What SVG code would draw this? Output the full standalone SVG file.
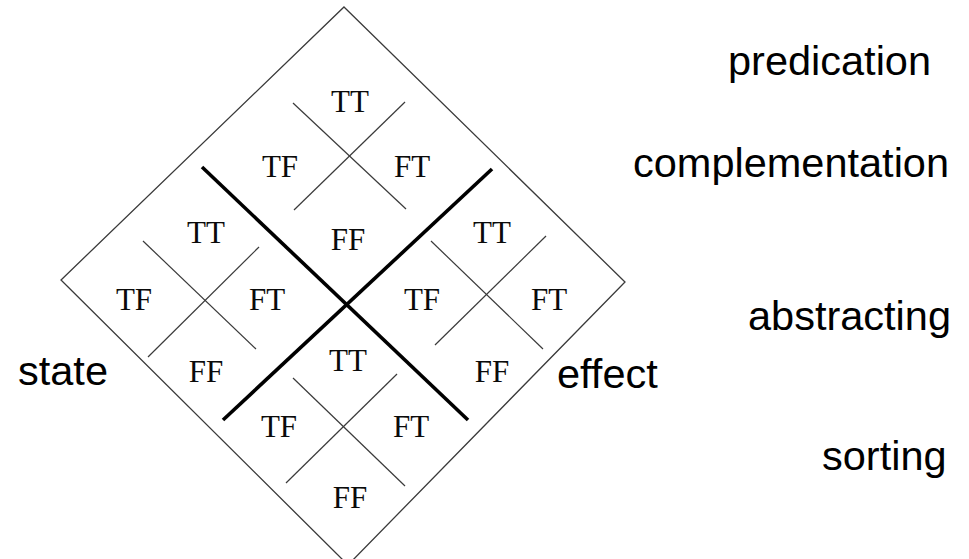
<svg xmlns="http://www.w3.org/2000/svg" width="969" height="559" viewBox="0 0 969 559">
  <style>
    .frame { fill: none; stroke: #3a3a3a; stroke-width: 1.3; }
    .axis { fill: none; stroke: #000; stroke-width: 3.6; stroke-linecap: butt; }
    .thin { fill: none; stroke: #3a3a3a; stroke-width: 1.2; }
    .tv { font-family: "Liberation Serif", "Times New Roman", serif; font-size: 31px; fill: #0a0a0a; text-anchor: middle; }
    .lbl { font-family: "Liberation Sans", Arial, sans-serif; font-size: 41.5px; fill: #000; }
  </style>
  <rect width="969" height="559" fill="#fff"/>

  <!-- outer square frame, standing on its corner -->
  <g id="frame">
    <polygon class="frame" points="344,7 625,282 348,565 61,280"/>
  </g>

  <!-- the two heavy dividing lines -->
  <g id="connectors">
    <line class="axis" x1="202" y1="167" x2="468" y2="420"/>
    <line class="axis" x1="492" y1="169" x2="223" y2="420"/>
  </g>

  <!-- top quadrant -->
  <g id="quad-top">
    <line class="thin" x1="293" y1="103" x2="406" y2="209"/>
    <line class="thin" x1="405" y1="102" x2="294" y2="210"/>
    <text class="tv" x="350" y="112">TT</text>
    <text class="tv" x="280" y="177">TF</text>
    <text class="tv" x="412" y="177">FT</text>
    <text class="tv" x="348" y="250">FF</text>
  </g>

  <!-- left quadrant -->
  <g id="quad-left">
    <line class="thin" x1="143" y1="241" x2="256" y2="349"/>
    <line class="thin" x1="259" y1="247" x2="148" y2="357"/>
    <text class="tv" x="206" y="243">TT</text>
    <text class="tv" x="134" y="310">TF</text>
    <text class="tv" x="267" y="310">FT</text>
    <text class="tv" x="206" y="382">FF</text>
  </g>

  <!-- right quadrant -->
  <g id="quad-right">
    <line class="thin" x1="431" y1="241" x2="543" y2="349"/>
    <line class="thin" x1="546" y1="236" x2="435" y2="345"/>
    <text class="tv" x="492" y="243">TT</text>
    <text class="tv" x="422" y="310">TF</text>
    <text class="tv" x="549" y="310">FT</text>
    <text class="tv" x="492" y="382">FF</text>
  </g>

  <!-- bottom quadrant -->
  <g id="quad-bottom">
    <line class="thin" x1="293" y1="378" x2="405" y2="486"/>
    <line class="thin" x1="397" y1="374" x2="286" y2="483"/>
    <text class="tv" x="348" y="371">TT</text>
    <text class="tv" x="279" y="437">TF</text>
    <text class="tv" x="411" y="437">FT</text>
    <text class="tv" x="350" y="508">FF</text>
  </g>

  <!-- side captions -->
  <g id="label-state"><text class="lbl" x="18" y="385">state</text></g>
  <g id="label-effect"><text class="lbl" x="557" y="388">effect</text></g>
  <g id="label-predication"><text class="lbl" x="728" y="75">predication</text></g>
  <g id="label-complementation"><text class="lbl" x="633" y="177">complementation</text></g>
  <g id="label-abstracting"><text class="lbl" x="748" y="330">abstracting</text></g>
  <g id="label-sorting"><text class="lbl" x="822" y="470">sorting</text></g>
</svg>
